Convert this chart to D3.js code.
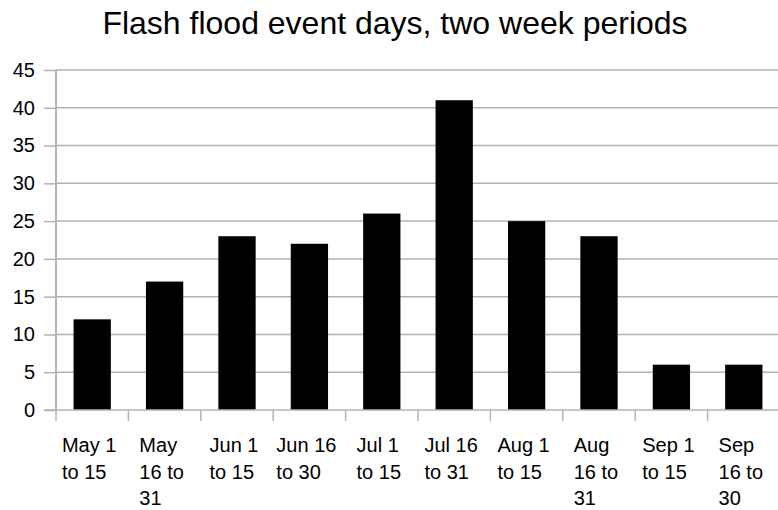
<!DOCTYPE html>
<html>
<head>
<meta charset="utf-8">
<script src="https://cdn.jsdelivr.net/npm/d3@7/dist/d3.min.js"></script>
<style>
  html, body { margin: 0; padding: 0; background: #fff; }
  svg { display: block; font-family: "Liberation Sans", Arial, sans-serif; }
</style>
</head>
<body>
<svg id="chart" width="778" height="510"></svg>
<script>
// Two-week periods and the number of flash flood event days in each
const categories = ["May 1 to 15", "May 16 to 31", "Jun 1 to 15", "Jun 16 to 30",
                    "Jul 1 to 15", "Jul 16 to 31", "Aug 1 to 15", "Aug 16 to 31",
                    "Sep 1 to 15", "Sep 16 to 30"];
const eventDays = [12, 17, 23, 22, 26, 41, 25, 23, 6, 6];
const yTicks = [0, 5, 10, 15, 20, 25, 30, 35, 40, 45];
const title = "Flash flood event days, two week periods";

const svg = d3.select("#chart");
const plotLeft = 56, plotRight = 780, plotTop = 70, plotBottom = 410;
const gridColor = "#b3b3b3";

const x = d3.scaleBand().domain(categories).range([plotLeft, plotRight]).paddingInner(0).paddingOuter(0);
const y = d3.scaleLinear().domain([0, 45]).range([plotBottom, plotTop]);

// Title
svg.append("text")
  .attr("x", 395).attr("y", 34)
  .attr("text-anchor", "middle")
  .attr("font-size", 32)
  .attr("fill", "#000")
  .text(title);

// Horizontal gridlines
svg.append("g").selectAll("line").data(yTicks.filter(d => d > 0)).join("line")
  .attr("x1", plotLeft).attr("x2", 778)
  .attr("y1", d => y(d)).attr("y2", d => y(d))
  .attr("stroke", gridColor).attr("stroke-width", 1.5);

// Y axis
const yAxis = svg.append("g")
  .attr("transform", `translate(${plotLeft},0)`)
  .call(d3.axisLeft(y).tickValues(yTicks).tickSize(12).tickPadding(9).tickFormat(d3.format("d")));
yAxis.select(".domain").remove();
yAxis.selectAll(".tick line").attr("stroke", gridColor).attr("stroke-width", 1.5);
yAxis.selectAll(".tick text").attr("font-size", 20).attr("fill", "#000")
  .attr("font-family", "'Liberation Sans', Arial, sans-serif");
svg.append("line")
  .attr("x1", plotLeft).attr("x2", plotLeft).attr("y1", plotTop).attr("y2", plotBottom)
  .attr("stroke", gridColor).attr("stroke-width", 2);

// Bars
const barWidth = x.bandwidth() * 0.515;
svg.append("g").selectAll("rect").data(eventDays).join("rect")
  .attr("x", (d, i) => x(categories[i]) + (x.bandwidth() - barWidth) / 2)
  .attr("y", d => y(d))
  .attr("width", barWidth)
  .attr("height", d => y(0) - y(d))
  .attr("fill", "#000");

// X axis baseline and ticks
svg.append("line")
  .attr("x1", plotLeft - 12).attr("x2", 778).attr("y1", plotBottom).attr("y2", plotBottom)
  .attr("stroke", gridColor).attr("stroke-width", 1.5);
const xTickPositions = categories.map(c => x(c));
svg.append("g").selectAll("line").data(xTickPositions).join("line")
  .attr("x1", d => d).attr("x2", d => d)
  .attr("y1", plotBottom).attr("y2", plotBottom + 11)
  .attr("stroke", gridColor).attr("stroke-width", 1.5);

// Category labels, wrapped into lines that fit the band, block centred
const labelSize = 20, lineHeight = 26.7, maxWidth = x.bandwidth() * 0.85;
const labels = svg.append("g").attr("font-size", labelSize).attr("fill", "#000");
categories.forEach(cat => {
  const words = cat.split(" ");
  const t = labels.append("text").attr("y", 452);
  const lines = [];
  let current = [];
  const probe = t.append("tspan");
  words.forEach(w => {
    const trial = current.concat(w).join(" ");
    probe.text(trial);
    if (current.length && probe.node().getComputedTextLength() > maxWidth) {
      lines.push(current.join(" "));
      current = [w];
    } else {
      current.push(w);
    }
  });
  if (current.length) lines.push(current.join(" "));
  probe.remove();
  const spans = lines.map((ln, i) =>
    t.append("tspan").attr("dy", i === 0 ? 0 : lineHeight).text(ln));
  const blockW = d3.max(spans, s => s.node().getComputedTextLength());
  const x0 = x(cat) + x.bandwidth() / 2 - blockW / 2 - 3;
  spans.forEach(s => s.attr("x", x0));
});
</script>
</body>
</html>
